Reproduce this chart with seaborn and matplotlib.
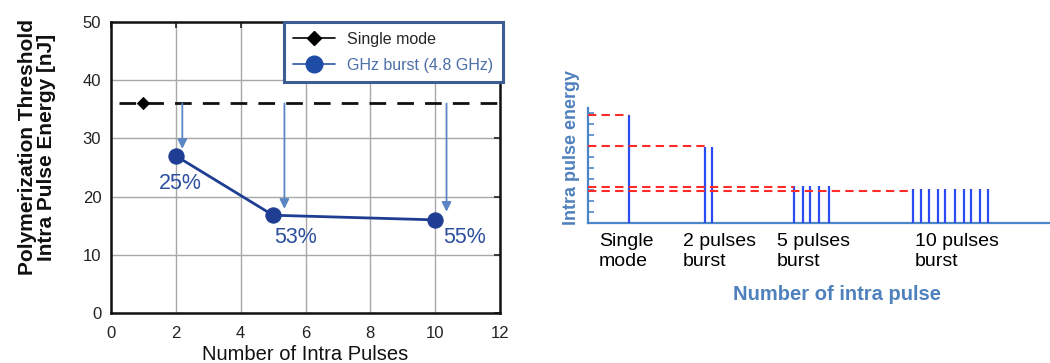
import matplotlib
matplotlib.use("Agg")
import matplotlib.pyplot as plt
import seaborn as sns
import pandas as pd

# Threshold measurements
single_x = [1]
single_y = [36]
burst_x = [2, 5, 10]
burst_y = [27, 16.8, 16]
reduction_labels = ["25%", "53%", "55%"]
reduction_label_x = [2.15, 5.7, 10.9]
reduction_label_y = [22.3, 13.0, 13.0]
arrow_x = [2.2, 5.35, 10.35]
arrow_tip_y = [28.2, 17.9, 17.4]

# Schematic pulse trains (time axis in arbitrary units)
group_labels = ["Single\nmode", "2 pulses\nburst", "5 pulses\nburst", "10 pulses\nburst"]
group_label_x = [11, 95, 189, 327]
pulse_positions = [
    [41],
    [117, 124],
    [206, 215, 222, 231, 241],
    [325, 333, 341, 350, 357, 367, 376, 383, 392, 400],
]
pulse_heights = [9.8, 6.9, 3.4, 3.1]
level_heights = [9.8, 7.0, 3.25, 2.95]

sns.set_theme(style="white")
plt.rcParams["font.family"] = ["Liberation Sans", "DejaVu Sans"]

fig = plt.figure(figsize=(10.5, 3.63), dpi=100)

# ---------------- left: threshold vs. number of intra pulses ----------------
ax = fig.add_axes([111 / 1050, 50 / 363, 389 / 1050, 291 / 363])
ax.set_xlim(0, 12)
ax.set_ylim(0, 50)
ax.set_xticks(range(0, 13, 2))
ax.set_yticks(range(0, 51, 10))
ax.grid(True, color="#a8a8a8", lw=1.0)
ax.set_axisbelow(True)
for s in ax.spines.values():
    s.set_color("#111111")
    s.set_linewidth(1.8)
ax.tick_params(axis="both", labelsize=12, colors="#222222", direction="in",
               length=4, width=1.2, right=True, top=True, pad=7)
ax.tick_params(axis="x", pad=9)

ax.axhline(single_y[0], xmin=0.02, xmax=1.0, color="#111111", lw=2.0,
           dashes=(6, 4), zorder=2)

df_single = pd.DataFrame({"n": single_x, "E": single_y})
df_burst = pd.DataFrame({"n": burst_x, "E": burst_y})
sns.scatterplot(data=df_single, x="n", y="E", marker="D", s=40, color="black",
                edgecolor="black", ax=ax, zorder=4)
sns.lineplot(data=df_burst, x="n", y="E", marker="o", markersize=11,
             color="#1f3e93", lw=2.0, markeredgecolor="#1f3e93", ax=ax, zorder=4)

for xa, yt in zip(arrow_x, arrow_tip_y):
    ax.annotate("", xy=(xa, yt), xytext=(xa, single_y[0]),
                arrowprops=dict(arrowstyle="-|>", color="#5a86c4", lw=1.3,
                                mutation_scale=14, shrinkA=0, shrinkB=0),
                zorder=3)
for lab, lx, ly in zip(reduction_labels, reduction_label_x, reduction_label_y):
    ax.text(lx, ly, lab, ha="center", va="center", fontsize=15.5,
            color="#2b4f9e")

ax.set_xlabel("Number of Intra Pulses", fontsize=14.5, color="#111111")
ax.xaxis.label.set_va("center")
ax.xaxis.set_label_coords(0.5, -0.144)
ax.set_ylabel("Polymerization Threshold\nIntra Pulse Energy [nJ]", fontsize=15,
              fontweight="bold", color="#111111", linespacing=1.02)
ax.yaxis.label.set_va("center")
ax.yaxis.set_label_coords(-0.19, 0.57)

handles = [
    plt.Line2D([], [], color="black", lw=1.2, marker="D", markersize=7),
    plt.Line2D([], [], color="#2b55a8", lw=1.2, marker="o", markersize=12,
               markerfacecolor="#1f4da6", markeredgecolor="#1f4da6"),
]
leg = ax.legend(handles, ["Single mode", "GHz burst (4.8 GHz)"], loc="upper right",
                bbox_to_anchor=(1.008, 1.0), borderaxespad=0, fontsize=11.5,
                fancybox=False, framealpha=1, handlelength=2.6,
                borderpad=0.6, labelspacing=0.7)
leg.get_frame().set_edgecolor("#3c5d93")
leg.get_frame().set_linewidth(2.2)
leg.get_texts()[1].set_color("#4a6ea8")

# ---------------- right: pulse energy schematic ----------------
axr = fig.add_axes([588 / 1050, 140 / 363, 462 / 1050, 115 / 363])
axr.set_xlim(0, 462)
axr.set_ylim(0, 10.45)
axr.set_facecolor("none")
for side in ["top", "right"]:
    axr.spines[side].set_visible(False)
for side in ["left", "bottom"]:
    axr.spines[side].set_color("#4a86c8")
    axr.spines[side].set_linewidth(1.6)
axr.set_xticks([])
axr.set_yticks(range(1, 11))
axr.set_yticklabels([])
axr.tick_params(axis="y", direction="in", length=4, width=1.2, colors="#4a86c8",
                left=True)

for xs, h, lvl in zip(pulse_positions, pulse_heights, level_heights):
    axr.vlines(xs, 0, h, color="#2a4cf2", lw=1.6, zorder=3)
    axr.hlines(lvl, 0, xs[0], color="#ff2a2a", lw=1.5, linestyles=(0, (4, 2.5)),
               zorder=4)

for lab, lx in zip(group_labels, group_label_x):
    axr.annotate(lab, xy=(lx, 0), xycoords=("data", "axes fraction"),
                 xytext=(0, -7), textcoords="offset points", ha="left", va="top",
                 fontsize=14, color="black", linespacing=1.22)

axr.set_xlabel("Number of intra pulse", fontsize=14.5, fontweight="bold",
               color="#4f81bd")
axr.xaxis.label.set_va("center")
axr.xaxis.set_label_coords((837 - 588) / 462, -0.626)
axr.set_ylabel("Intra pulse energy", fontsize=13, fontweight="bold",
               color="#4f81bd")
axr.yaxis.label.set_va("center")
axr.yaxis.set_label_coords(-(588 - 572) / 462, 0.657)

fig.savefig("out.png", dpi=100)
